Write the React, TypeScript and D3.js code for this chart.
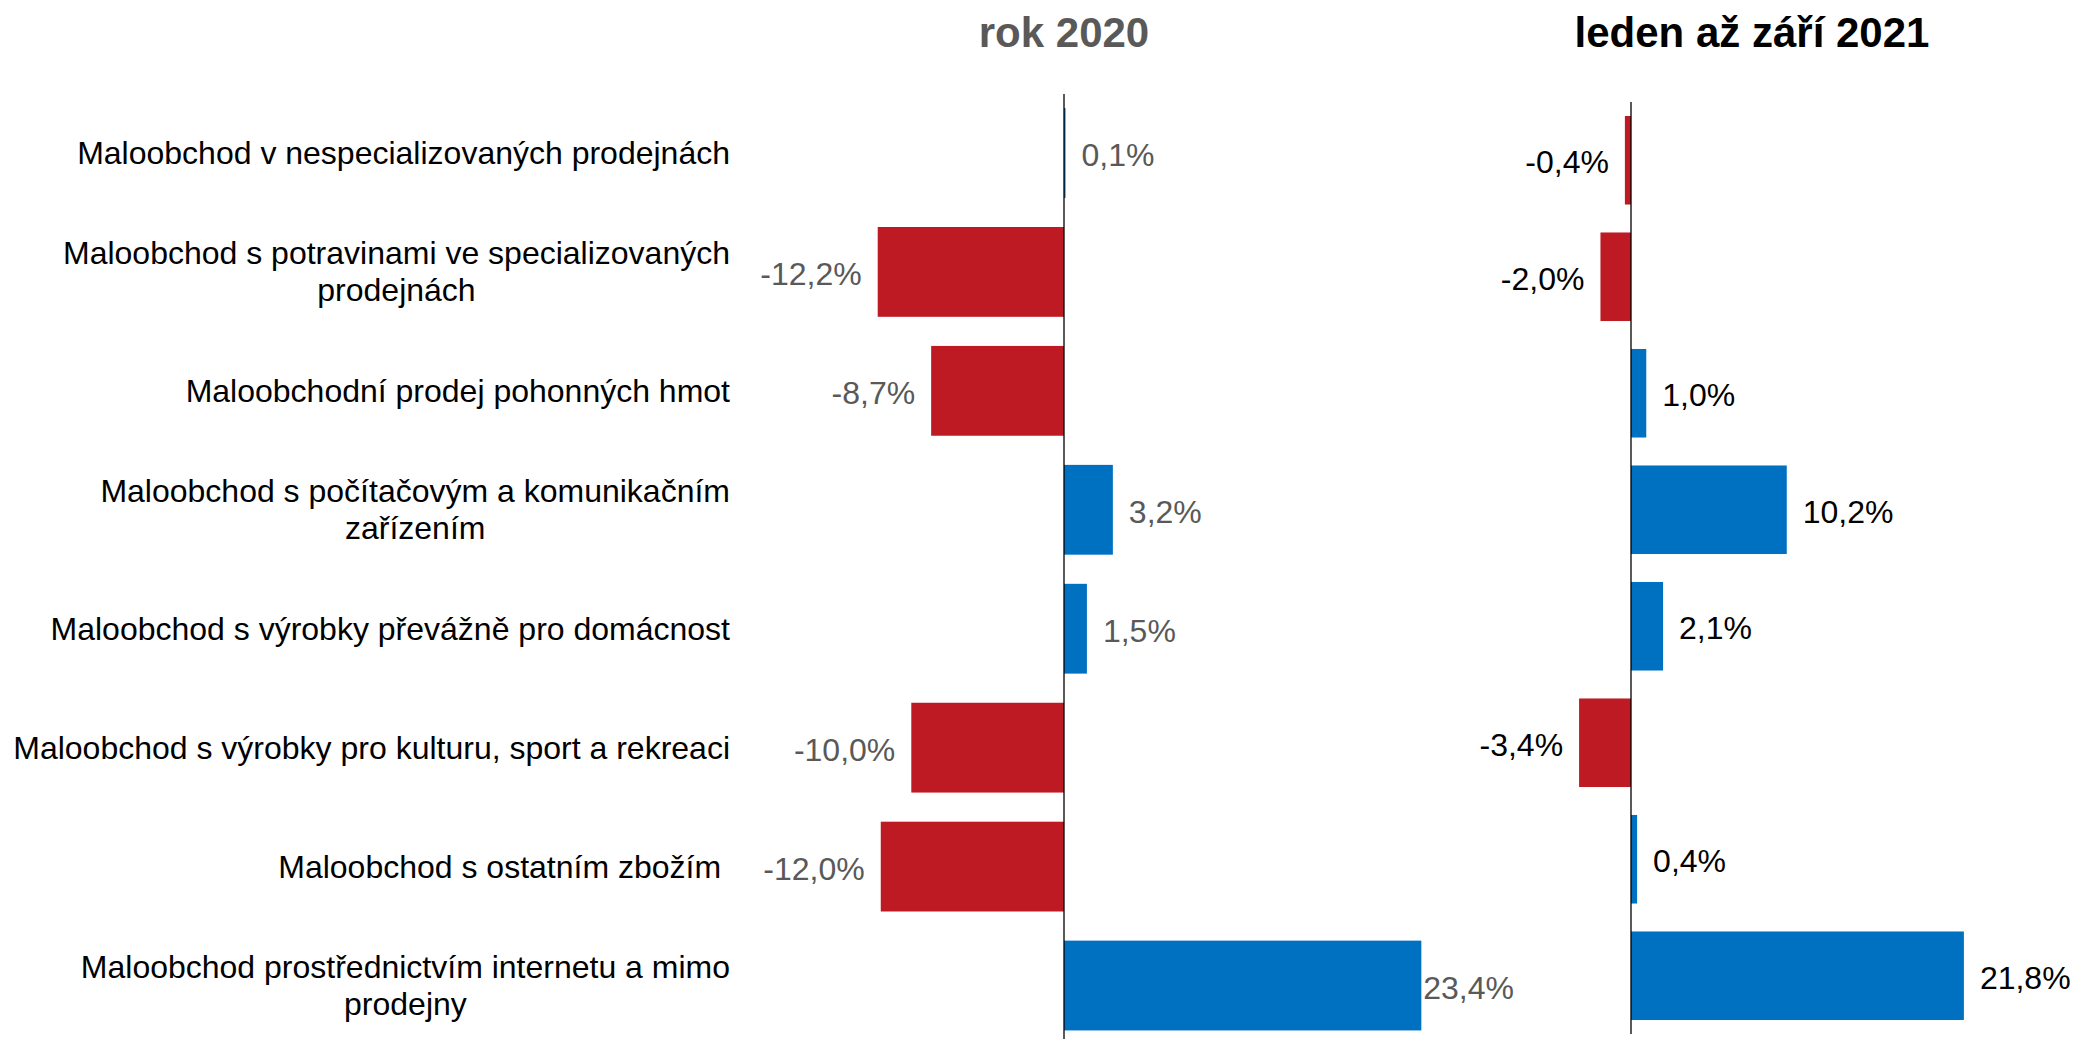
import { useEffect, useRef } from 'react';
import * as d3 from 'd3';

// category labels, one array of lines per row
const categories: string[][] = [
  ['Maloobchod v nespecializovaných prodejnách'],
  ['Maloobchod s potravinami ve specializovaných', 'prodejnách'],
  ['Maloobchodní prodej pohonných hmot'],
  ['Maloobchod s počítačovým a komunikačním', 'zařízením'],
  ['Maloobchod s výrobky převážně pro domácnost'],
  ['Maloobchod s výrobky pro kulturu, sport a rekreaci'],
  ['Maloobchod s ostatním zbožím '],
  ['Maloobchod prostřednictvím internetu a mimo', 'prodejny'],
];

const values2020 = [0.1, -12.2, -8.7, 3.2, 1.5, -10.0, -12.0, 23.4];
const values2021 = [-0.4, -2.0, 1.0, 10.2, 2.1, -3.4, 0.4, 21.8];

const title2020 = 'rok 2020';
const title2021 = 'leden až září 2021';

const W = 2073;
const H = 1039;
const FONT = '"Liberation Sans", Arial, sans-serif';
const RED = '#BE1A23';
const BLUE = '#0070C0';

const fmt = (v: number) => v.toFixed(1).replace('.', ',') + '%';

export default function App() {
  const svgRef = useRef<SVGSVGElement>(null);

  useEffect(() => {
    const svg = d3.select(svgRef.current);
    svg.selectAll('*').remove();

    const idx = d3.range(categories.length);

    const panels = [
      {
        values: values2020,
        title: title2020,
        titleColor: '#595959',
        labelColor: '#595959',
        x: d3.scaleLinear().domain([-20, 30]).range([1064 - 20 * 15.27, 1064 + 30 * 15.27]),
        y: d3.scaleBand<number>().domain(idx).range([93.5, 1045]).paddingInner(0.245).paddingOuter(0.1225),
        axisTop: 94,
        axisBottom: 1039,
        labelMax: 1514,
        titleX: 1064,
        titleY: 32,
      },
      {
        values: values2021,
        title: title2021,
        titleColor: '#000000',
        labelColor: '#000000',
        x: d3.scaleLinear().domain([-20, 30]).range([1631 - 20 * 15.27, 1631 + 30 * 15.27]),
        y: d3.scaleBand<number>().domain(idx).range([102, 1034]).paddingInner(0.24).paddingOuter(0.12),
        axisTop: 102,
        axisBottom: 1034,
        labelMax: W,
        titleX: 1752,
        titleY: 32,
      },
    ];

    panels.forEach(p => {
      const g = svg.append('g');

      g.selectAll('rect')
        .data(p.values)
        .join('rect')
        .attr('x', d => Math.min(p.x(0), p.x(d)))
        .attr('width', d => Math.max(1.5, Math.abs(p.x(d) - p.x(0))))
        .attr('y', (_, i) => p.y(i)!)
        .attr('height', p.y.bandwidth())
        .attr('fill', d => (d < 0 ? RED : BLUE));

      g.append('line')
        .attr('x1', p.x(0))
        .attr('x2', p.x(0))
        .attr('y1', p.axisTop)
        .attr('y2', p.axisBottom)
        .attr('stroke', '#000')
        .attr('stroke-width', 1.3);

      g.selectAll('text.val')
        .data(p.values)
        .join('text')
        .attr('class', 'val')
        .attr('font-family', FONT)
        .attr('font-size', 32)
        .attr('fill', p.labelColor)
        .attr('dominant-baseline', 'central')
        .attr('y', (_, i) => p.y(i)! + p.y.bandwidth() / 2 + 2)
        .text(d => fmt(d))
        .each(function (d) {
          const t = this as SVGTextElement;
          const w = t.getComputedTextLength();
          if (d < 0) {
            t.setAttribute('x', String(p.x(d) - 16 - w));
          } else {
            t.setAttribute('x', String(Math.min(p.x(d) + 16, p.labelMax - w)));
          }
        });

      svg.append('text')
        .attr('x', p.titleX)
        .attr('y', p.titleY)
        .attr('text-anchor', 'middle')
        .attr('dominant-baseline', 'central')
        .attr('font-family', FONT)
        .attr('font-size', 42)
        .attr('font-weight', 'bold')
        .attr('fill', p.titleColor)
        .text(p.title);
    });

    // category labels, aligned with the left panel rows
    const yL = panels[0].y;
    const labelRight = 730;
    const lineH = 37;
    categories.forEach((lines, i) => {
      const cy = yL(i)! + yL.bandwidth() / 2;
      const g = svg.append('g');
      const texts = lines.map((line, j) =>
        g.append('text')
          .attr('font-family', FONT)
          .attr('font-size', 32)
          .attr('fill', '#000')
          .attr('dominant-baseline', 'central')
          .style('white-space', 'pre')
          .attr('y', cy + (j - (lines.length - 1) / 2) * lineH)
          .text(line)
      );
      if (lines.length === 1) {
        texts[0].attr('x', labelRight).attr('text-anchor', 'end');
      } else {
        const maxW = d3.max(texts, t => (t.node() as SVGTextElement).getComputedTextLength()) ?? 0;
        texts.forEach(t => t.attr('x', labelRight - maxW / 2).attr('text-anchor', 'middle'));
      }
    });
  }, []);

  return (
    <svg
      ref={svgRef}
      width={W}
      height={H}
      viewBox={`0 0 ${W} ${H}`}
      style={{ position: 'absolute', left: 0, top: 0, background: '#fff' }}
    />
  );
}
